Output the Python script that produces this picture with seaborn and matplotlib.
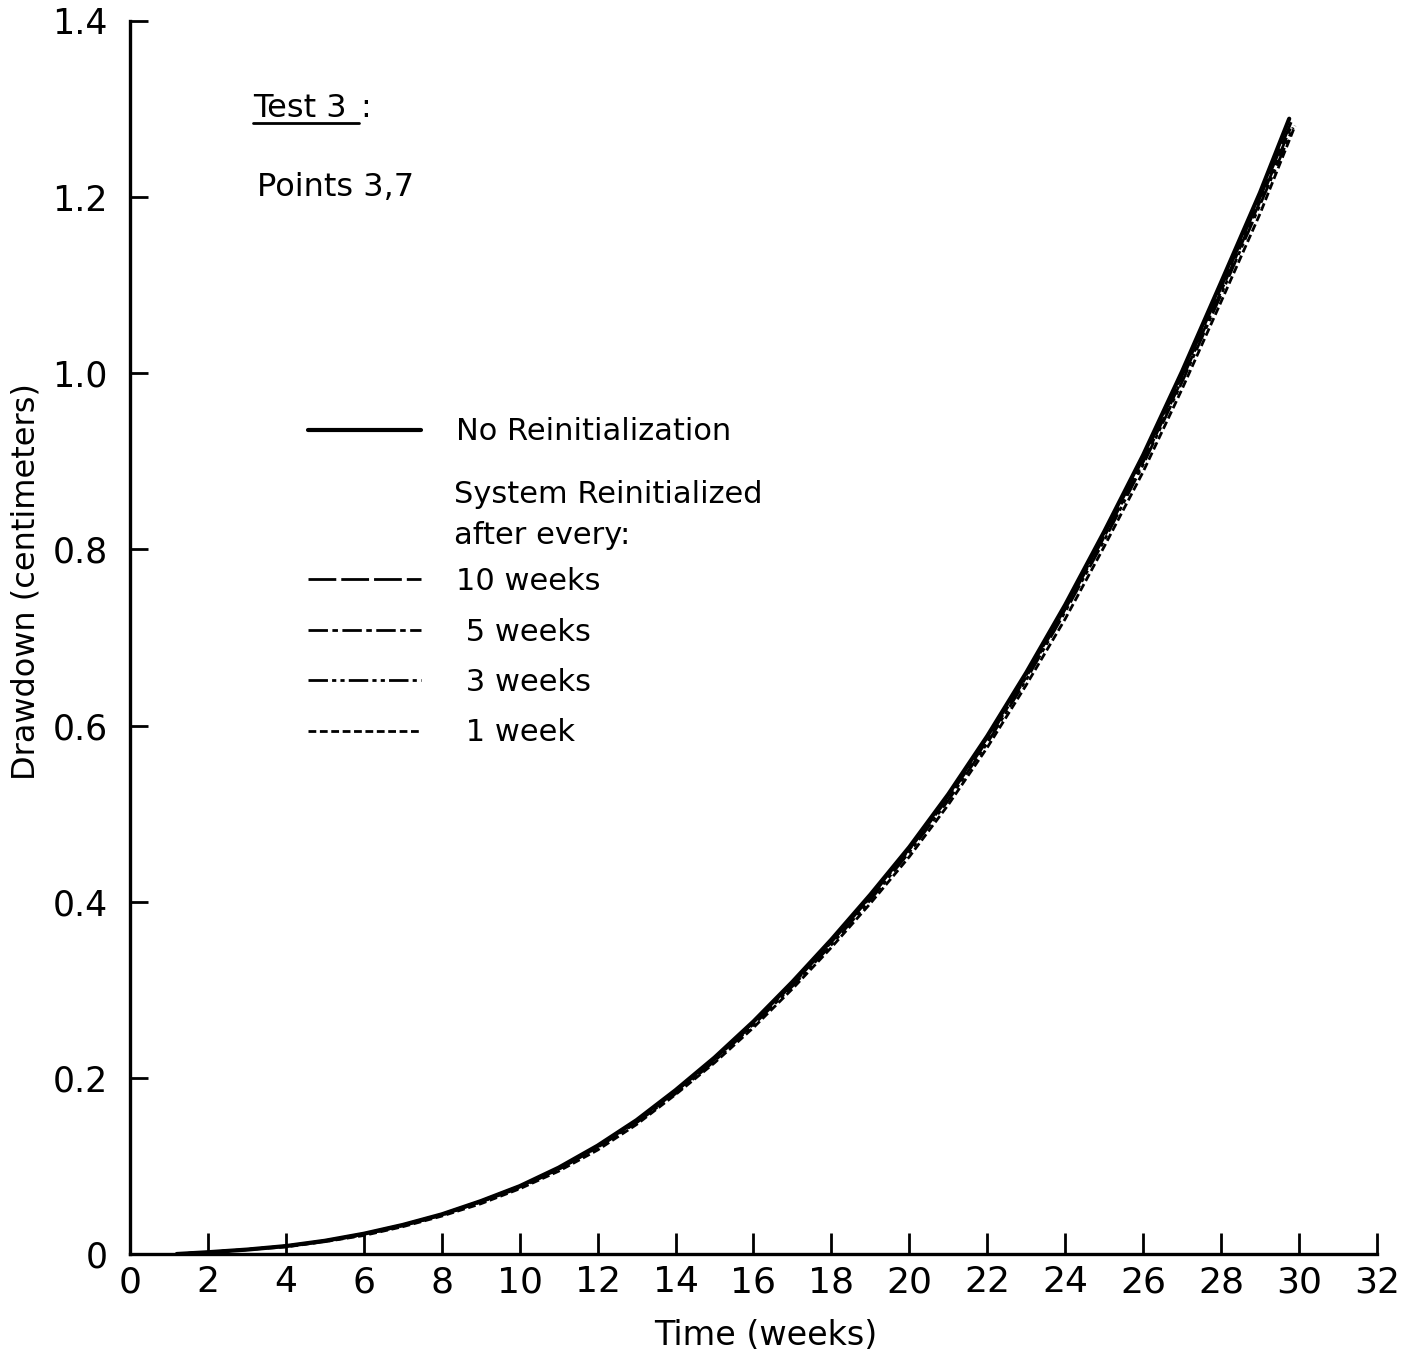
import matplotlib
matplotlib.use("Agg")
import matplotlib.pyplot as plt
import pandas as pd
import seaborn as sns
from matplotlib.lines import Line2D


# Values
weeks = [1.2, 2, 3, 4, 5, 6, 7, 8, 9, 10, 11, 12, 13, 14, 15, 16, 17, 18, 19, 20,
         21, 22, 23, 24, 25, 26, 27, 28, 29]

no_reinit = [0.000, 0.002, 0.005, 0.009, 0.015, 0.023, 0.033, 0.045, 0.060, 0.077,
             0.098, 0.123, 0.152, 0.186, 0.223, 0.264, 0.309, 0.357, 0.408, 0.462,
             0.522, 0.588, 0.660, 0.737, 0.820, 0.907, 1.002, 1.103, 1.205]
reinit_10 = [0.000, 0.002, 0.005, 0.009, 0.015, 0.023, 0.033, 0.045, 0.060, 0.077,
             0.097, 0.122, 0.151, 0.185, 0.222, 0.263, 0.307, 0.355, 0.406, 0.460,
             0.520, 0.586, 0.657, 0.733, 0.816, 0.903, 0.997, 1.097, 1.199]
reinit_5 = [0.000, 0.002, 0.005, 0.009, 0.015, 0.022, 0.032, 0.044, 0.059, 0.076,
            0.096, 0.121, 0.150, 0.184, 0.221, 0.261, 0.306, 0.354, 0.405, 0.459,
            0.518, 0.583, 0.655, 0.732, 0.814, 0.899, 0.993, 1.093, 1.195]
reinit_3 = [0.000, 0.002, 0.005, 0.009, 0.014, 0.022, 0.032, 0.044, 0.059, 0.075,
            0.096, 0.121, 0.149, 0.182, 0.219, 0.260, 0.304, 0.351, 0.402, 0.456,
            0.515, 0.580, 0.652, 0.729, 0.810, 0.896, 0.990, 1.089, 1.191]
reinit_1 = [0.000, 0.002, 0.005, 0.008, 0.014, 0.021, 0.031, 0.043, 0.057, 0.074,
            0.094, 0.118, 0.147, 0.181, 0.217, 0.257, 0.301, 0.348, 0.398, 0.451,
            0.510, 0.575, 0.646, 0.721, 0.803, 0.888, 0.982, 1.081, 1.181]

# last plotted point of each curve (week, drawdown)
end_points = {
    "No Reinitialization": (29.75, 1.289),
    "10 weeks": (29.8, 1.285),
    " 5 weeks": (29.8, 1.280),
    " 3 weeks": (29.85, 1.279),
    " 1 week": (29.9, 1.281),
}

xticks = [0, 2, 4, 6, 8, 10, 12, 14, 16, 18, 20, 22, 24, 26, 28, 30, 32]
yticks = [0, 0.2, 0.4, 0.6, 0.8, 1.0, 1.2, 1.4]
ytick_labels = ["0", "0.2", "0.4", "0.6", "0.8", "1.0", "1.2", "1.4"]

series = {
    "No Reinitialization": no_reinit,
    "10 weeks": reinit_10,
    " 5 weeks": reinit_5,
    " 3 weeks": reinit_3,
    " 1 week": reinit_1,
}
line_styles = {
    "No Reinitialization": ("-", 3.0),
    "10 weeks": ((0, (10, 1.8)), 2.0),
    " 5 weeks": ((0, (7, 1.6, 2, 1.6)), 2.0),
    " 3 weeks": ((0, (7, 1.5, 1.5, 1.5, 1.5, 1.5)), 2.0),
    " 1 week": ((0, (2.8, 1.3)), 2.0),
}

# build a long table
frames = []
for name, vals in series.items():
    ew, ev = end_points[name]
    frames.append(pd.DataFrame({"week": weeks + [ew], "drawdown": vals + [ev], "series": name}))
df = pd.concat(frames, ignore_index=True)

sns.set_style("ticks")
plt.rcParams["font.family"] = ["DejaVu Sans"]
plt.rcParams["text.color"] = "black"
plt.rcParams["axes.labelcolor"] = "black"
plt.rcParams["xtick.color"] = "black"
plt.rcParams["ytick.color"] = "black"
plt.rcParams["axes.edgecolor"] = "black"

fig = plt.figure(figsize=(14.18, 13.51), dpi=100)
ax = fig.add_axes([0.0917, 0.0718, 0.8793, 0.9127])

handles = []
for name in series:
    ls, lw = line_styles[name]
    sub = df[df["series"] == name]
    sns.lineplot(x="week", y="drawdown", data=sub, ax=ax, color="black",
                 linestyle=ls, linewidth=lw, estimator=None, sort=True)
    handles.append(Line2D([], [], color="black", linestyle=ls, linewidth=lw))

ax.set_xlim(0, 32)
ax.set_ylim(0, 1.4)
ax.set_xticks(xticks)
ax.set_xticklabels([str(t) for t in xticks])
ax.set_yticks(yticks)
ax.set_yticklabels(ytick_labels)
sns.despine(ax=ax)
for side in ["left", "bottom"]:
    ax.spines[side].set_linewidth(2.4)
ax.tick_params(axis="x", direction="in", length=15, width=2, labelsize=26, pad=8)
ax.tick_params(axis="y", direction="in", length=13, width=2, labelsize=25, pad=16)

ax.set_xlabel("Time (weeks)", fontsize=24)
ax.set_ylabel("Drawdown (centimeters)", fontsize=23)
ax.xaxis.set_label_coords(0.51, -0.053)
ax.yaxis.set_label_coords(-0.071, 0.545)

# legend: first entry, a header, then the reinitialization entries
leg_kw = dict(frameon=False, fontsize=22, handlelength=3.7, handletextpad=1.15,
              borderpad=0, borderaxespad=0)
names = list(series)
leg1 = ax.legend(handles[:1], names[:1], loc="center left",
                 bbox_to_anchor=(0.1427, 0.6667), **leg_kw)
ax.add_artist(leg1)
ax.legend(handles[1:], names[1:], loc="upper left", bbox_to_anchor=(0.1427, 0.557),
          labelspacing=0.7, **leg_kw)
ax.text(0.2598, 0.5993, "System Reinitialized\nafter every:", transform=ax.transAxes,
        fontsize=22, va="center", ha="left", linespacing=1.5)

# annotations
t = ax.text(0.0986, 0.929, "Test 3", transform=ax.transAxes, fontsize=23, va="center")
fig.canvas.draw()
bb = t.get_window_extent()
fig.add_artist(Line2D([bb.x0, bb.x1 + 12], [bb.y0 + 1, bb.y0 + 1], transform=None,
                      color="black", linewidth=2))
ax.annotate(":", xy=(bb.x1 + 14, (bb.y0 + bb.y1) / 2), xycoords="figure pixels",
            fontsize=23, va="center")
ax.text(0.1018, 0.865, "Points 3,7", transform=ax.transAxes, fontsize=23, va="center")

fig.savefig("out.png", dpi=100)
